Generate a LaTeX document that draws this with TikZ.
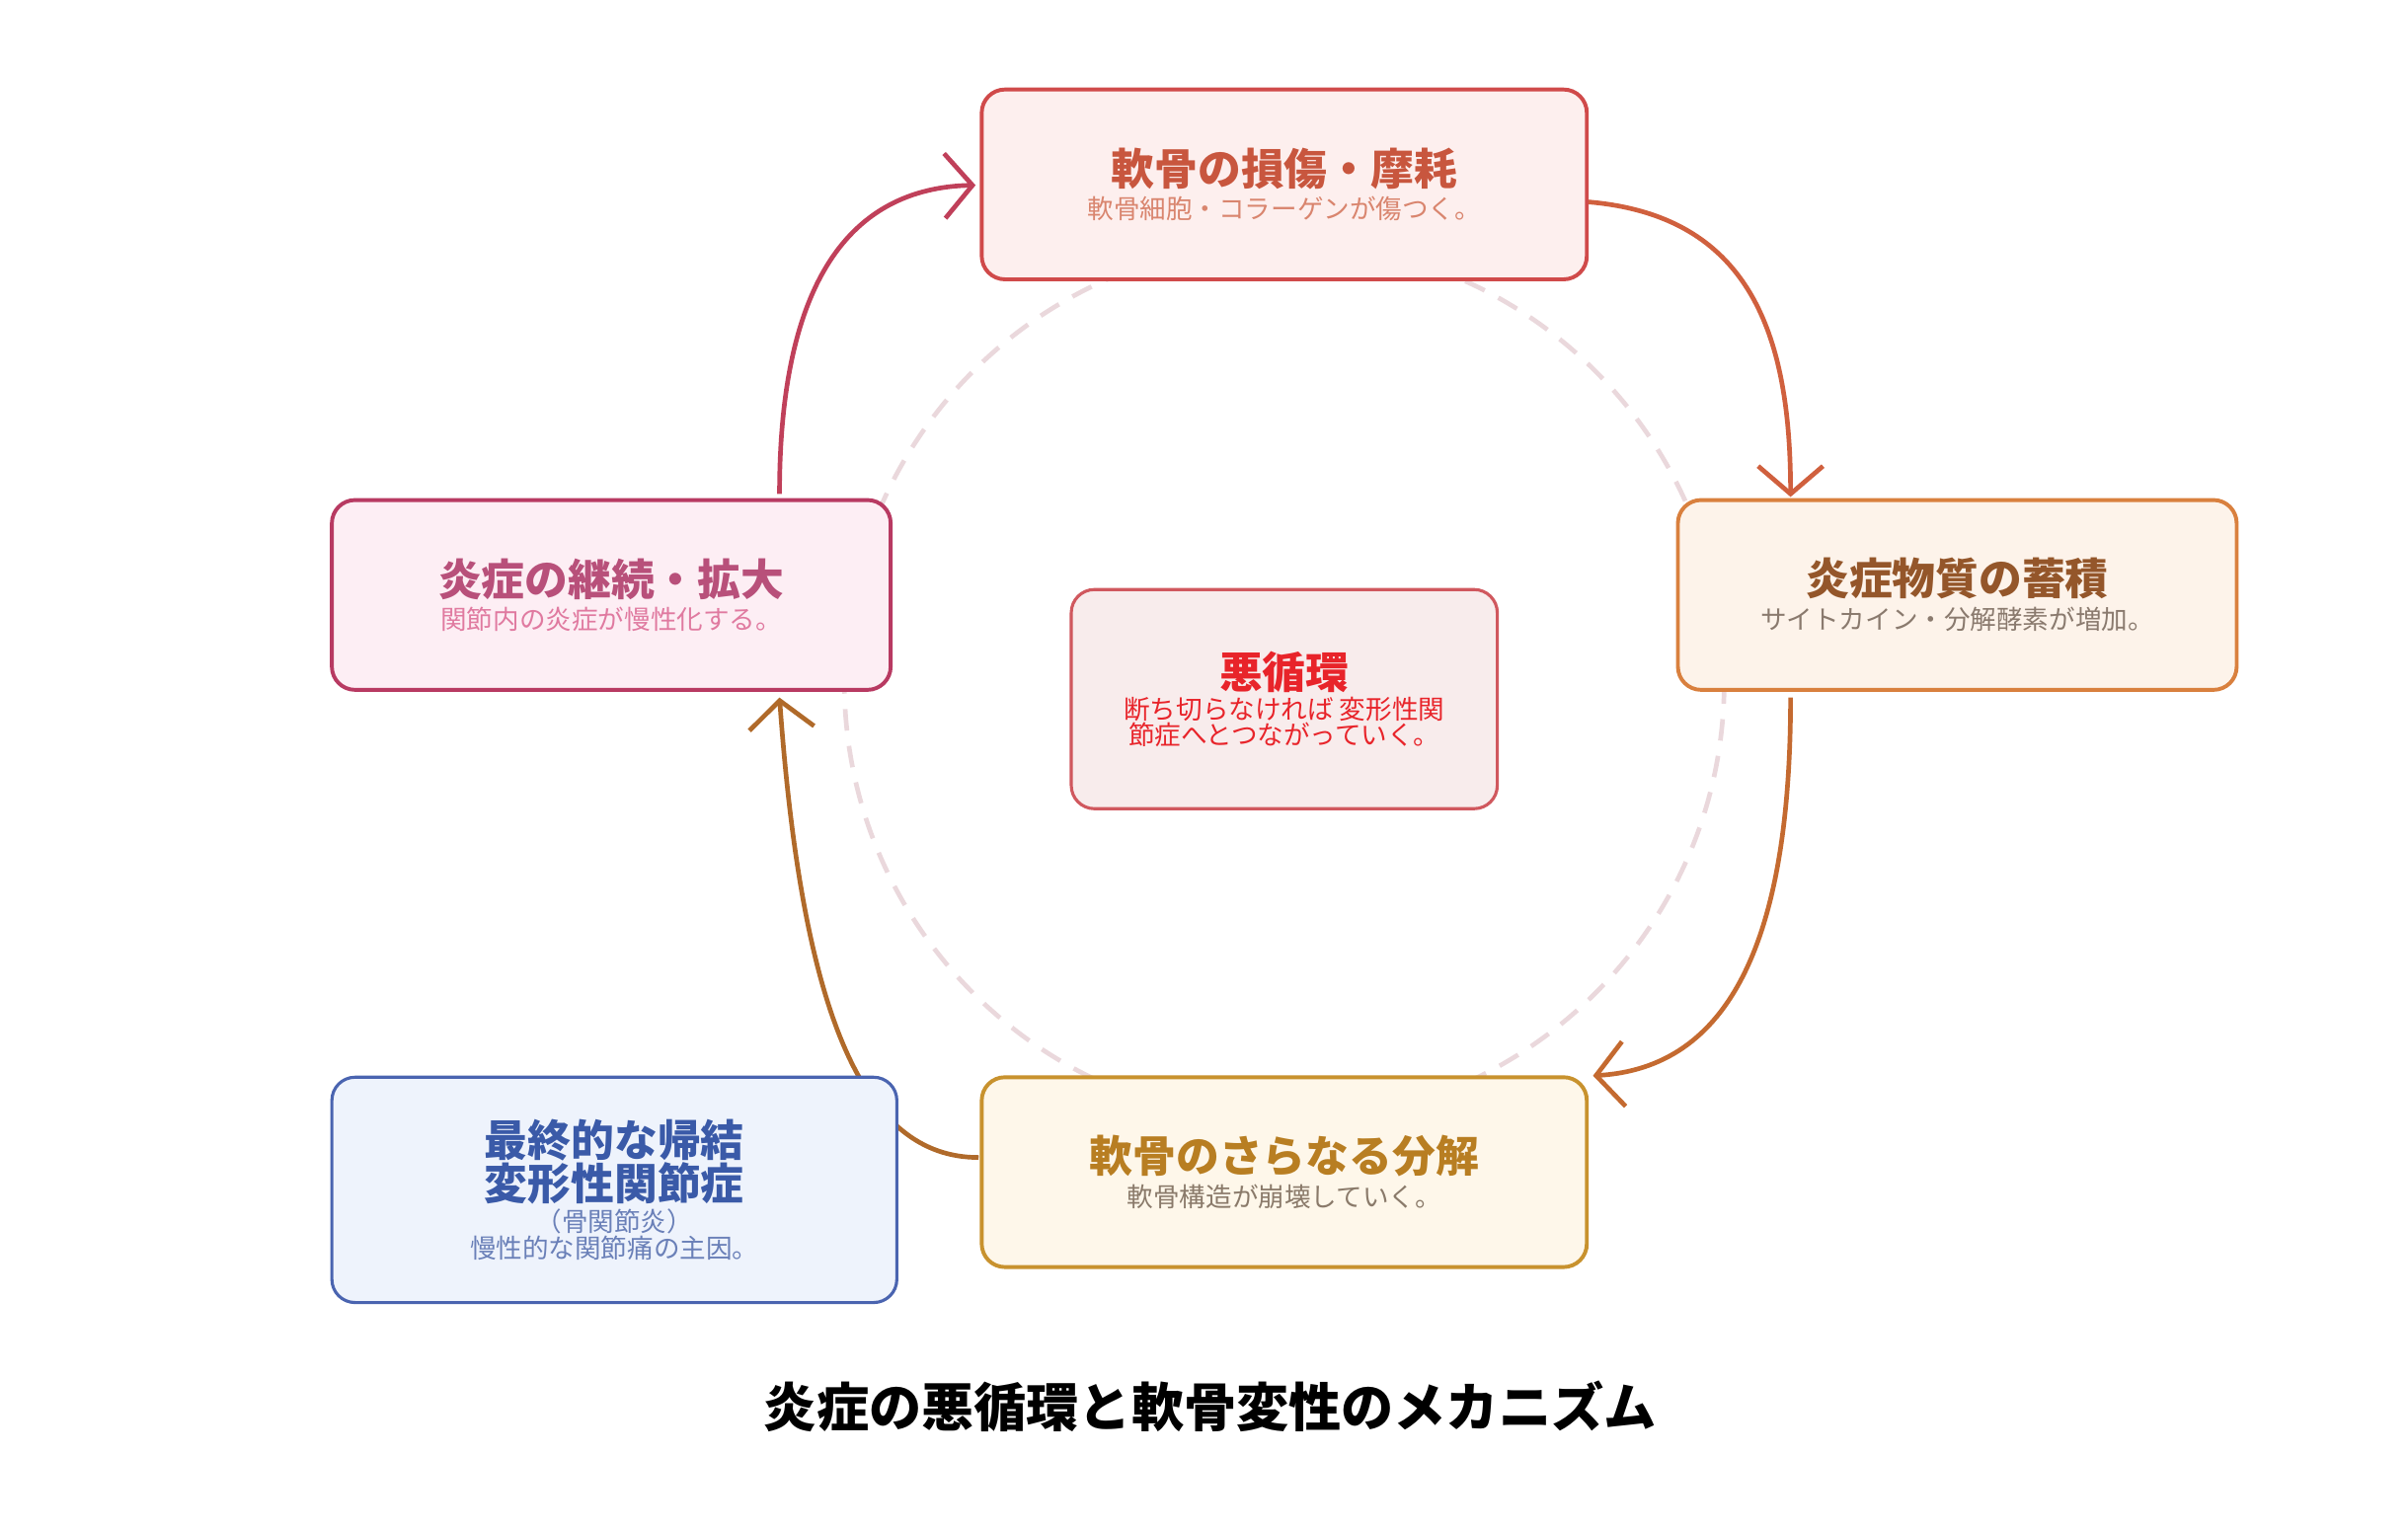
\documentclass[tikz,border=0pt]{standalone}
\usepackage{fontspec}
\setmainfont{Noto Sans CJK JP}
\usetikzlibrary{arrows.meta,positioning}
\definecolor{dmgD}{HTML}{D04A4A}\definecolor{dmgF}{HTML}{FDEFEE}\definecolor{dmgT}{HTML}{C8563E}\definecolor{dmgS}{HTML}{D9856E}
\definecolor{accD}{HTML}{D9803E}\definecolor{accF}{HTML}{FDF3EA}\definecolor{accT}{HTML}{94562A}\definecolor{accS}{HTML}{8A7A6E}
\definecolor{infD}{HTML}{B83A62}\definecolor{infF}{HTML}{FDEEF4}\definecolor{infT}{HTML}{B8507A}\definecolor{infS}{HTML}{E07AA0}
\definecolor{vicD}{HTML}{D0585E}\definecolor{vicF}{HTML}{F8ECEC}\definecolor{vicT}{HTML}{E8242A}
\definecolor{brkD}{HTML}{C8922E}\definecolor{brkF}{HTML}{FEF7EA}\definecolor{brkT}{HTML}{B87E22}\definecolor{brkS}{HTML}{8A7A6A}
\definecolor{oaD}{HTML}{4A64B0}\definecolor{oaF}{HTML}{EEF3FC}\definecolor{oaT}{HTML}{3A5AA8}\definecolor{oaS}{HTML}{6A80B8}
\definecolor{ringC}{HTML}{EAD8DC}
\newcommand{\ttl}{\fontsize{28}{34}\selectfont\bfseries}
\newcommand{\sbt}{\fontsize{17}{22}\selectfont}
\begin{document}
\begin{tikzpicture}[x=1pt,y=-1pt,
  box/.style={rounded corners=15pt,line width=2.5pt,align=center,inner sep=0pt},%
  e/.style={-{Straight Barb[length=18pt,width=42pt,line width=3pt]},line width=3pt},%
  ]
  \useasboundingbox (0,0) rectangle (1560,992);

  \draw [ringC,line width=3pt,dash pattern=on 14pt off 10pt] (832,442) circle (285);

  \draw [e,draw={rgb,255:red,192;green,64;blue,90}] (505,320) .. controls (505,200) and (540,122) .. (632,120);
  \draw [e,draw={rgb,255:red,208;green,96;blue,62}] (1008,130) .. controls (1130,130) and (1160,210) .. (1160,322);
  \draw [e,draw={rgb,255:red,196;green,106;blue,48}] (1160,452) .. controls (1160,610) and (1120,692) .. (1032,697);
  \draw [e,draw={rgb,255:red,176;green,106;blue,42}] (634,750) .. controls (560,750) and (520,660) .. (505,452);

  \node (damage) [box,draw=dmgD,fill=dmgF,minimum width=392pt,minimum height=123pt] at (832,119.5)
    {\color{dmgT}\ttl 軟骨の損傷・摩耗\\[4pt]\color{dmgS}\sbt 軟骨細胞・コラーゲンが傷つく。};
  \node (accum) [box,draw=accD,fill=accF,minimum width=362pt,minimum height=123pt] at (1268,385.5)
    {\color{accT}\ttl 炎症物質の蓄積\\[4pt]\color{accS}\sbt サイトカイン・分解酵素が増加。};
  \node (inflam) [box,draw=infD,fill=infF,minimum width=362pt,minimum height=123pt] at (396,385.5)
    {\color{infT}\ttl 炎症の継続・拡大\\[4pt]\color{infS}\sbt 関節内の炎症が慢性化する。};
  \node (vicious) [box,draw=vicD,fill=vicF,line width=2pt,minimum width=276pt,minimum height=142pt] at (832,453)
    {\color{vicT}\ttl 悪循環\\[2pt]\color{vicT}\sbt 断ち切らなければ 変形性関\\\color{vicT}\sbt 節症へとつながっていく。};
  \node (breakdown) [box,draw=brkD,fill=brkF,minimum width=392pt,minimum height=123pt] at (832,759.5)
    {\color{brkT}\ttl 軟骨のさらなる分解\\[4pt]\color{brkS}\sbt 軟骨構造が崩壊していく。};
  \node (oa) [box,draw=oaD,fill=oaF,line width=2pt,minimum width=366pt,minimum height=146pt] at (398,771)
    {\color{oaT}\ttl 最終的な帰結\\\color{oaT}\ttl 変形性関節症\\[2pt]\color{oaS}\sbt （骨関節炎）\\\color{oaS}\sbt 慢性的な関節痛の主因。};

  \node (title) at (784,911) {\fontsize{34}{40}\selectfont\bfseries 炎症の悪循環と軟骨変性のメカニズム};
\end{tikzpicture}
\end{document}
